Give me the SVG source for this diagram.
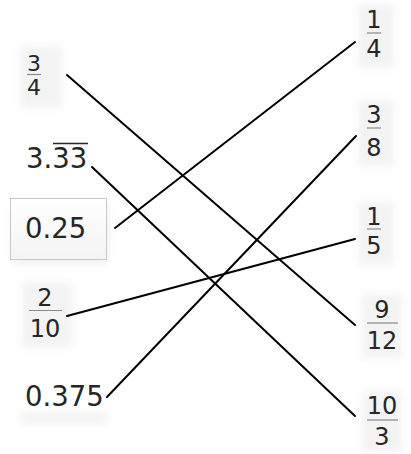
<svg xmlns="http://www.w3.org/2000/svg" width="411" height="454" viewBox="0 0 411 454">
<defs>
<filter id="soft" x="-30%" y="-30%" width="160%" height="160%"><feGaussianBlur stdDeviation="4"/></filter>
<linearGradient id="boxg" x1="0" y1="0" x2="0" y2="1"><stop offset="0" stop-color="#ffffff"/><stop offset="1" stop-color="#f4f4f4"/></linearGradient>
<style>
text{font-family:"DejaVu Sans",Verdana,sans-serif;fill:#262626}
.big{font-size:27.5px}
.fr{font-size:24px;text-anchor:middle}
.sm{font-size:22px}
.bar{stroke:#8a8a8a;stroke-width:1.2}
.bg{fill:#f3f3f3;filter:url(#soft)}
.conn line{stroke:#000;stroke-width:2;stroke-linecap:round}
</style>
</defs>
<rect width="411" height="454" fill="#ffffff"/>
<g id="n-3-4">
<rect class="bg" x="20" y="46" width="42" height="62"/>
<text class="fr sm" x="34" y="71">3</text>
<line class="bar" x1="27" y1="74.5" x2="41" y2="74.5"/>
<text class="fr sm" x="34" y="95">4</text>
</g>
<g id="n-3-33">
<text class="big" x="26" y="168">3.33</text>
<line x1="53" y1="143.5" x2="88" y2="143.5" stroke="#262626" stroke-width="1.6"/>
</g>
<g id="n-0-25">
<rect x="13" y="202" width="94" height="60" fill="#dddddd" filter="url(#soft)" opacity="0.6"/>
<rect x="10.5" y="198.5" width="96" height="61" fill="url(#boxg)" stroke="#c9c9c9" stroke-width="1"/>
<text class="big" x="25" y="238">0.25</text>
</g>
<g id="n-2-10">
<rect class="bg" x="22" y="282" width="50" height="66"/>
<text class="fr" x="45" y="306">2</text>
<line class="bar" x1="29" y1="310.5" x2="62" y2="310.5"/>
<text class="fr" x="45" y="337">10</text>
</g>
<g id="n-0-375">
<rect class="bg" x="20" y="412" width="88" height="12"/>
<text class="big" x="25" y="406">0.375</text>
</g>
<g id="n-1-4">
<rect class="bg" x="358" y="4" width="36" height="64"/>
<text class="fr" x="374" y="28">1</text>
<line class="bar" x1="367" y1="33" x2="381" y2="33"/>
<text class="fr" x="374" y="57">4</text>
</g>
<g id="n-3-8">
<rect class="bg" x="358" y="100" width="36" height="66"/>
<text class="fr" x="374" y="123">3</text>
<line class="bar" x1="367" y1="128" x2="381" y2="128"/>
<text class="fr" x="374" y="156">8</text>
</g>
<g id="n-1-5">
<rect class="bg" x="358" y="202" width="36" height="62"/>
<text class="fr" x="374" y="225">1</text>
<line class="bar" x1="367" y1="229" x2="381" y2="229"/>
<text class="fr" x="374" y="254">5</text>
</g>
<g id="n-9-12">
<rect class="bg" x="362" y="294" width="40" height="64"/>
<text class="fr" x="382" y="318">9</text>
<line class="bar" x1="367" y1="323" x2="398" y2="323"/>
<text class="fr" x="382" y="349">12</text>
</g>
<g id="n-10-3">
<rect class="bg" x="362" y="392" width="40" height="60"/>
<text class="fr" x="382" y="414">10</text>
<line class="bar" x1="367" y1="420" x2="398" y2="420"/>
<text class="fr" x="382" y="445">3</text>
</g>
<g id="connectors" class="conn">
<line x1="67" y1="75" x2="355" y2="325"/>
<line x1="92" y1="167" x2="355" y2="416"/>
<line x1="115" y1="228" x2="355" y2="42"/>
<line x1="67" y1="316" x2="355" y2="239"/>
<line x1="107" y1="397" x2="356" y2="136"/>
</g>
</svg>
